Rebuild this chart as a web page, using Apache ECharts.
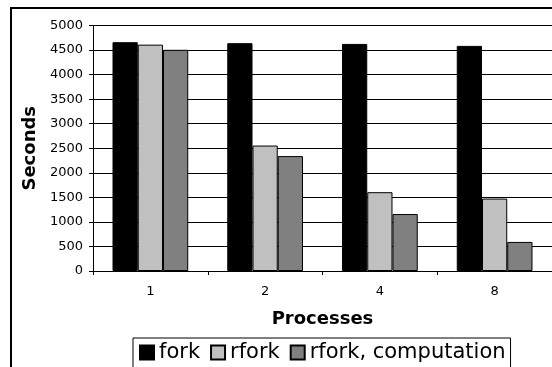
<!DOCTYPE html>
<html>
<head>
<meta charset="utf-8">
<script src="https://cdn.jsdelivr.net/npm/echarts@6/dist/echarts.min.js"></script>
<style>
html,body{margin:0;padding:0;background:#fff;}
#chart{width:552px;height:367px;}
</style>
</head>
<body>
<div id="chart"></div>
<script>
// Run time per process count, in seconds
const processes = ['1', '2', '4', '8'];
const forkTimes = [4660, 4640, 4625, 4585];
const rforkTimes = [4610, 2555, 1605, 1475];
const rforkComputation = [4505, 2340, 1160, 592];
const yTicks = { min: 0, max: 5000, interval: 500 };

const chart = echarts.init(document.getElementById('chart'), null, { renderer: 'canvas' });
const font = 'DejaVu Sans, Verdana, sans-serif';

function barSeries(name, data, color) {
  return {
    name: name,
    type: 'bar',
    data: data,
    barGap: '0%',
    barCategoryGap: '34%',
    itemStyle: { color: color, borderColor: '#000', borderWidth: 1 },
    emphasis: { disabled: true }
  };
}

chart.setOption({
  animation: false,
  backgroundColor: '#fff',
  textStyle: { fontFamily: font },
  graphic: [{
    type: 'rect',
    shape: { x: 11, y: 8, width: 560, height: 380 },
    style: { fill: 'none', stroke: '#000', lineWidth: 2 },
    z: 0
  }],
  grid: { left: 93, top: 25.5, right: -1, bottom: 96, containLabel: false },
  legend: {
    data: ['fork', 'rfork', 'rfork, computation'],
    left: 133,
    top: 338,
    itemWidth: 14,
    itemHeight: 14,
    itemGap: 10,
    padding: [4, 5, 10, 6],
    borderColor: '#000',
    borderWidth: 1,
    icon: 'rect',
    textStyle: { fontFamily: font, fontSize: 21, color: '#000', padding: [0, 0, 0, 0] },
    selectedMode: false
  },
  xAxis: {
    type: 'category',
    data: processes,
    name: 'Processes',
    nameLocation: 'middle',
    nameGap: 39,
    nameTextStyle: { fontFamily: font, fontSize: 18, fontWeight: 'bold', color: '#000' },
    axisLine: { lineStyle: { color: '#000', width: 1 } },
    axisTick: { show: true, length: 4, lineStyle: { color: '#000' } },
    axisLabel: { fontFamily: font, fontSize: 13, color: '#000', margin: 14 }
  },
  yAxis: {
    type: 'value',
    min: yTicks.min,
    max: yTicks.max,
    interval: yTicks.interval,
    name: 'Seconds',
    nameLocation: 'middle',
    nameGap: 47,
    nameRotate: 90,
    nameTextStyle: { fontFamily: font, fontSize: 18, fontWeight: 'bold', color: '#000' },
    axisLine: { show: true, lineStyle: { color: '#000', width: 1 } },
    axisTick: { show: true, length: 4, lineStyle: { color: '#000' } },
    axisLabel: { fontFamily: font, fontSize: 13, color: '#000', margin: 10, formatter: function (v) { return String(v); } },
    splitLine: { show: true, lineStyle: { color: '#000', width: 1 } }
  },
  series: [
    barSeries('fork', forkTimes, '#000000'),
    barSeries('rfork', rforkTimes, '#C0C0C0'),
    barSeries('rfork, computation', rforkComputation, '#808080')
  ]
});
</script>
</body>
</html>
